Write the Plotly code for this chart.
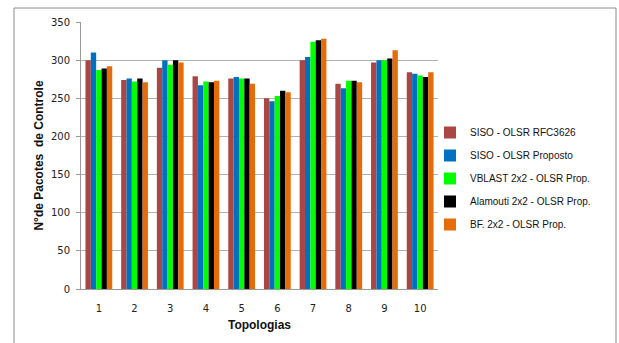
import plotly.graph_objects as go

categories = ["1", "2", "3", "4", "5", "6", "7", "8", "9", "10"]
siso_rfc = [300, 274, 290, 279, 276, 250, 300, 269, 297, 284]
siso_prop = [310, 276, 300, 267, 278, 246, 304, 263, 300, 282]
vblast = [287, 272, 294, 272, 276, 253, 324, 273, 300, 280]
alamouti = [289, 276, 300, 271, 276, 260, 326, 273, 302, 278]
bf = [292, 271, 297, 273, 269, 258, 328, 271, 313, 284]

series_names = [
    "SISO - OLSR RFC3626",
    "SISO - OLSR Proposto",
    "VBLAST 2x2 - OLSR Prop.",
    "Alamouti 2x2 - OLSR Prop.",
    "BF. 2x2 - OLSR Prop.",
]
series_values = [siso_rfc, siso_prop, vblast, alamouti, bf]
colors = ["#AA4643", "#0070C0", "#00FF00", "#000000", "#E46C0A"]

fig = go.Figure()
for i, (name, vals, col) in enumerate(zip(series_names, series_values, colors)):
    fig.add_trace(go.Bar(x=categories, y=vals, name=name,
                         marker=dict(color=col, line=dict(width=0)),
                         legendgroup=str(i)))

W, H = 619, 343
L, R, T, B = 81, 181, 22, 54
pw = W - L - R
ph = H - T - B

def px_x(x):
    return (x - L) / pw

def px_y(y):
    return (H - B - y) / ph

fig.update_layout(
    width=W, height=H,
    margin=dict(l=L, r=R, t=T, b=B, pad=0),
    paper_bgcolor="white", plot_bgcolor="white",
    barmode="group", bargap=0.25, bargroupgap=0,
    font=dict(family="DejaVu Sans", size=10, color="#222"),
    showlegend=True,
    legend=dict(
        x=px_x(430), xanchor="left",
        y=px_y(178.5), yanchor="middle",
        font=dict(family="Liberation Sans", size=10, color="#111"),
        traceorder="grouped", tracegroupgap=4,
        bgcolor="rgba(0,0,0,0)", itemwidth=30,
    ),
    shapes=[dict(type="rect", xref="paper", yref="paper",
                 x0=px_x(14), x1=px_x(616), y0=px_y(360), y1=px_y(8),
                 line=dict(color="#8C8C8C", width=1), layer="below")],
)

fig.update_yaxes(
    range=[0, 350], dtick=50, tick0=0,
    showgrid=True, gridcolor="#B3B3B3", gridwidth=1,
    showline=True, linecolor="#9A9A9A", linewidth=1,
    ticks="outside", ticklen=4, tickcolor="#9A9A9A",
    ticklabelstandoff=4, zeroline=False,
    tickfont=dict(family="DejaVu Sans", size=10, color="#222"),
    title=dict(text="N°de Pacotes  de Controle", standoff=4,
               font=dict(family="Liberation Sans", size=12, color="#111", weight="bold")),
)
fig.update_xaxes(
    showline=True, linecolor="#9A9A9A", linewidth=1,
    ticks="", ticklabelstandoff=10, showgrid=False,
    tickfont=dict(family="DejaVu Sans", size=10, color="#222"),
    title=dict(text="Topologias", standoff=7,
               font=dict(family="Liberation Sans", size=12, color="#111", weight="bold")),
)

fig.write_html("out.html")
